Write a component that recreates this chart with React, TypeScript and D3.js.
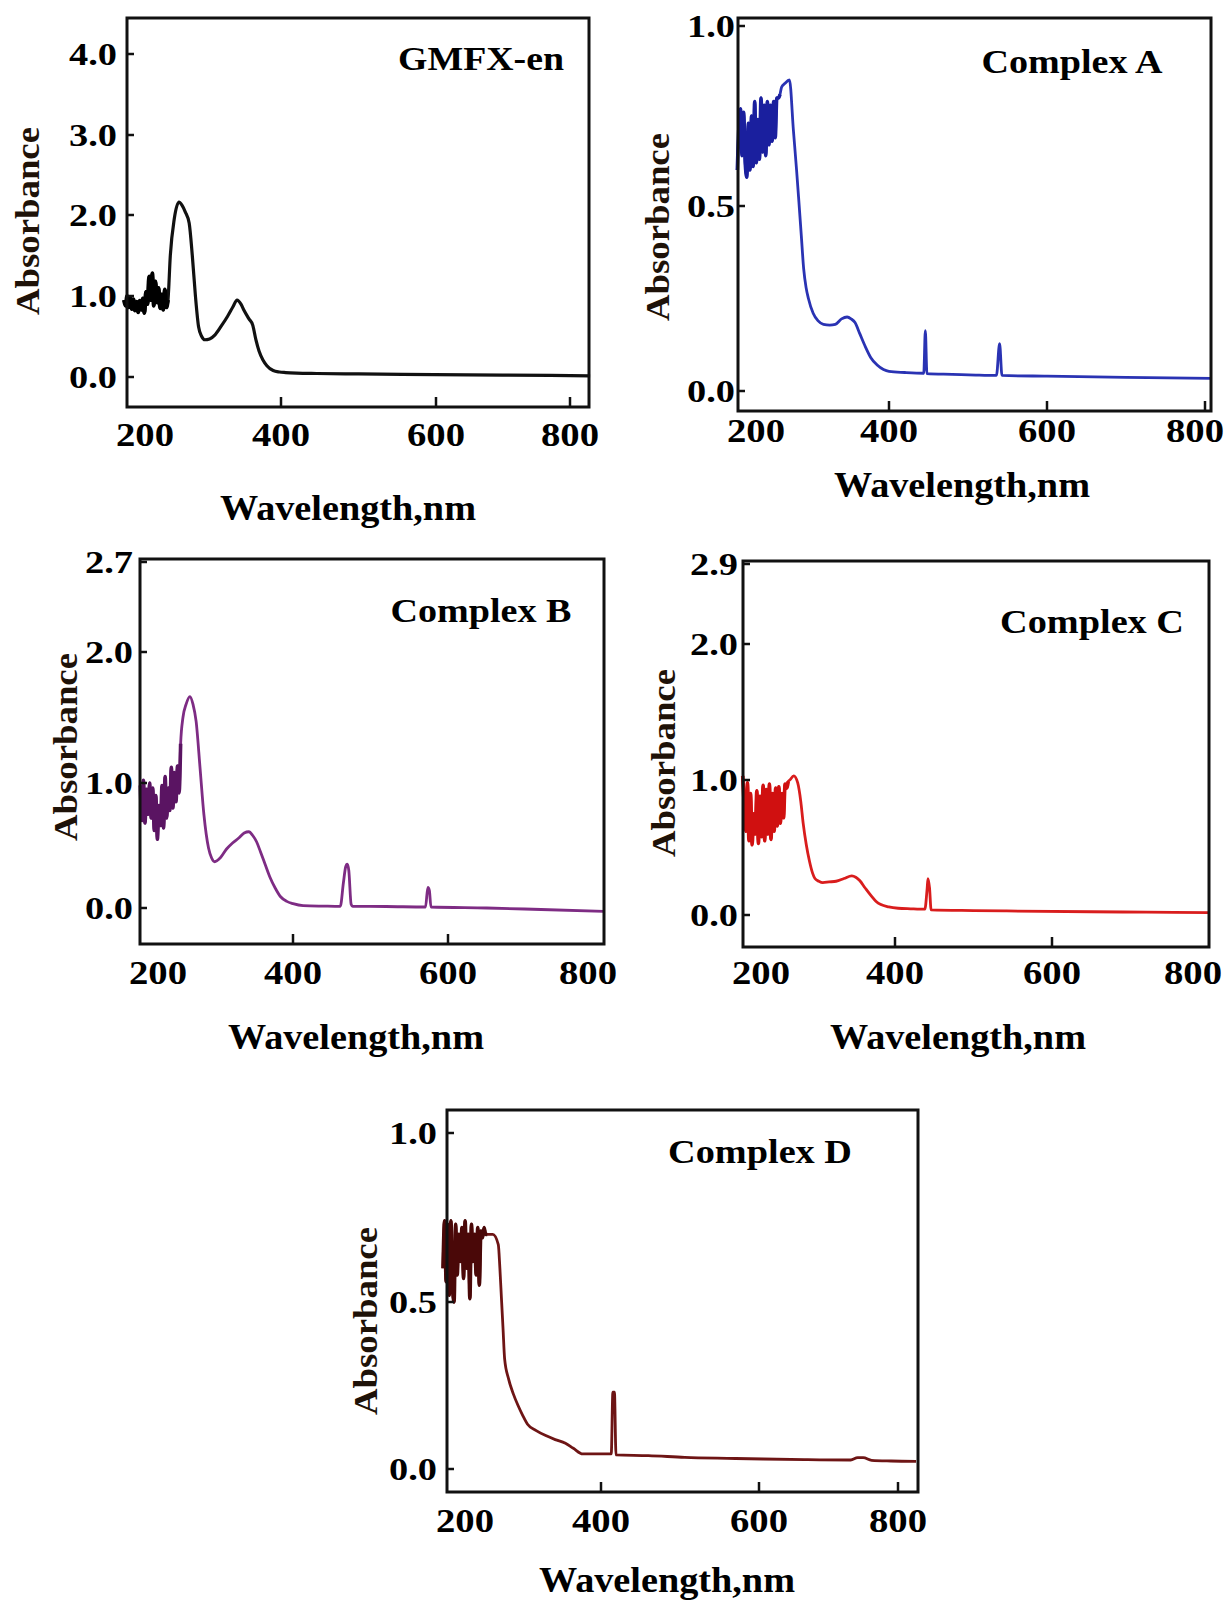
import React from 'react'
import * as d3 from 'd3'

// ---- data (wavelength nm, absorbance) ----
const gmfxWl = [200, 202, 204, 206, 208, 210, 212, 214, 216, 218, 220, 222, 224, 226, 228, 230, 232, 234, 236, 238, 240, 242, 244, 246, 248, 250, 252, 254, 256,
  259, 264, 270, 274, 278, 283, 287, 291, 295, 299, 303, 309, 316, 324, 332, 339, 344, 349, 353, 359, 364, 368, 372, 377, 382, 390, 398, 406, 420, 446, 500, 598, 700, 830]
const gmfxAbs = [0.95, 0.88, 1.0, 0.86, 0.98, 0.84, 0.96, 0.82, 0.93, 0.8, 0.94, 0.83, 0.97, 0.79, 1.05, 0.9, 1.24, 0.95, 1.28, 0.88, 1.18, 0.92, 1.1, 0.85, 1.02, 0.83, 1.08, 0.86, 0.95,
  1.5, 1.95, 2.16, 2.12, 2.04, 1.9, 1.5, 1.0, 0.62, 0.5, 0.46, 0.47, 0.52, 0.63, 0.75, 0.87, 0.95, 0.9, 0.82, 0.72, 0.64, 0.46, 0.32, 0.21, 0.14, 0.08, 0.062, 0.055, 0.048, 0.043, 0.038, 0.03, 0.024, 0.015]

const complexAWl = [208, 210, 212, 214, 216, 218, 220, 222, 224, 226, 228, 230, 232, 234, 236, 238, 240, 242, 244, 246, 248, 250, 252, 254, 256, 258, 260, 262,
  264, 268, 274, 279, 283, 286, 289, 292, 295, 298, 304, 310, 317, 325, 332, 340, 347, 352, 357, 363, 370, 377, 385, 393, 400, 420, 444, 446, 448, 480, 510, 536, 540, 543, 600, 700, 808]
const complexAAbs = [0.6, 0.72, 0.77, 0.64, 0.76, 0.62, 0.58, 0.73, 0.6, 0.75, 0.61, 0.79, 0.62, 0.74, 0.63, 0.8, 0.65, 0.78, 0.64, 0.79, 0.67, 0.78, 0.68, 0.79, 0.69, 0.8, 0.8, 0.81,
  0.83, 0.84, 0.85, 0.71, 0.6, 0.51, 0.42, 0.33, 0.28, 0.25, 0.21, 0.19, 0.18, 0.178, 0.18, 0.195, 0.2, 0.195, 0.185, 0.155, 0.12, 0.09, 0.07, 0.058, 0.053, 0.05, 0.048, 0.163, 0.047, 0.045, 0.043, 0.042, 0.128, 0.042, 0.04, 0.037, 0.034]

const complexBWl = [203, 205, 207, 209, 211, 213, 215, 217, 219, 221, 223, 225, 227, 229, 231, 233, 235, 237, 239, 241, 243, 245, 247, 249, 251, 253, 255,
  258, 262, 267, 271, 275, 280, 285, 291, 295, 299, 306, 314, 322, 330, 337, 343, 348, 353, 358, 364, 370, 377, 384, 392, 400, 413, 440, 461, 465, 468, 470, 472, 475, 477, 520, 571, 574, 576, 578, 650, 720, 801]
const complexBAbs = [0.98, 0.7, 1.02, 0.68, 0.95, 0.75, 1.0, 0.72, 0.96, 0.62, 0.9, 0.55, 0.82, 0.66, 0.98, 0.64, 1.05, 0.72, 0.96, 0.78, 1.12, 0.8, 1.08, 0.85, 1.13, 0.92, 1.3,
  1.5, 1.6, 1.66, 1.6, 1.47, 1.12, 0.75, 0.48, 0.4, 0.37, 0.4, 0.47, 0.52, 0.56, 0.6, 0.61, 0.58, 0.53, 0.45, 0.35, 0.25, 0.16, 0.09, 0.053, 0.035, 0.019, 0.015, 0.013, 0.2, 0.33, 0.35, 0.3, 0.03, 0.013, 0.012, 0.008, 0.165, 0.14, 0.008, 0.0, -0.012, -0.027]

const complexCWl = [206, 208, 210, 212, 214, 216, 218, 220, 222, 224, 226, 228, 230, 232, 234, 236, 238, 240, 242, 244, 246, 248, 250, 252, 254, 256, 258, 260, 262, 264,
  266, 271, 276, 280, 283, 287, 291, 295, 298, 303, 308, 316, 325, 335, 345, 350, 355, 362, 370, 376, 382, 392, 404, 420, 438, 441, 442, 444, 446, 500, 542, 650, 720, 800]
const complexCAbs = [1.03, 0.8, 0.62, 0.98, 0.55, 0.9, 0.52, 0.75, 0.6, 0.92, 0.53, 0.88, 0.58, 0.96, 0.55, 0.93, 0.6, 0.97, 0.56, 0.9, 0.62, 0.94, 0.66, 0.95, 0.68, 0.9, 0.72, 0.97, 0.94, 0.99,
  1.0, 1.03, 0.98, 0.84, 0.68, 0.52, 0.4, 0.31, 0.27, 0.25, 0.24, 0.245, 0.25, 0.27, 0.29, 0.28, 0.255, 0.2, 0.14, 0.1, 0.077, 0.06, 0.05, 0.046, 0.043, 0.2, 0.27, 0.2, 0.038, 0.033, 0.03, 0.024, 0.021, 0.018]

const complexDWl = [200, 202, 204, 206, 208, 210, 212, 214, 216, 218, 220, 222, 224, 226, 228, 230, 232, 234, 236, 238, 240, 242, 244, 246, 248, 250, 252, 254, 256,
  263, 270, 272, 274, 276, 278, 283, 289, 295, 301, 307, 318, 330, 342, 355, 365, 377, 395, 413, 415, 417, 419, 460, 506, 560, 606, 670, 732, 742, 750, 762, 790, 826]
const complexDAbs = [0.6, 0.74, 0.56, 0.73, 0.52, 0.74, 0.55, 0.5, 0.73, 0.58, 0.7, 0.62, 0.72, 0.57, 0.74, 0.6, 0.7, 0.51, 0.73, 0.62, 0.7, 0.58, 0.72, 0.55, 0.71, 0.69, 0.72, 0.7, 0.7,
  0.7, 0.67, 0.6, 0.51, 0.42, 0.33, 0.27, 0.225, 0.19, 0.16, 0.134, 0.115, 0.1, 0.088, 0.077, 0.062, 0.045, 0.045, 0.045, 0.23, 0.23, 0.042, 0.04, 0.035, 0.032, 0.03, 0.028, 0.027, 0.034, 0.034, 0.026, 0.024, 0.023]

const xTickValues = [200, 400, 600, 800]

const FONT = '"Liberation Serif", "Times New Roman", Times, serif'

// layout of the five panels (pixel positions only)
const panels = [
  {
    title: 'GMFX-en', wl: gmfxWl, abs: gmfxAbs, color: '#111111', noiseColor: '#000000', noiseEnd: 256, lw: 3.2,
    frame: { left: 127, right: 589, top: 18, bottom: 407 },
    xAnchors: [200, 400, 600, 800], xPx: [124, 281, 436, 570],
    yTicks: [0, 1, 2, 3, 4], yPx: [377, 296, 215, 135, 54],
    titleAt: [481, 70, 166], xlabAt: [348, 520], ylabAt: [39, 221], tickBase: 39, yGap: 10,
  },
  {
    title: 'Complex A', wl: complexAWl, abs: complexAAbs, color: '#2a33b3', noiseColor: '#1a1f9e', noiseEnd: 262, lw: 2.8,
    frame: { left: 738, right: 1211, top: 18, bottom: 411 },
    xAnchors: [400, 600], xPx: [889, 1047],
    yTicks: [0, 0.5, 1.0], yPx: [391, 206, 26],
    titleAt: [1072, 73, 181], xlabAt: [962, 497], ylabAt: [669, 227], tickBase: 31, yGap: 3,
  },
  {
    title: 'Complex B', wl: complexBWl, abs: complexBAbs, color: '#7e2c84', noiseColor: '#5a1462', noiseEnd: 255, lw: 2.8,
    frame: { left: 140, right: 604, top: 559, bottom: 944 },
    xAnchors: [400, 600], xPx: [293, 448],
    yTicks: [0, 1, 2, 2.7], yPx: [908, 783, 652, 562],
    titleAt: [481, 622, 181], xlabAt: [356, 1049], ylabAt: [77, 747], tickBase: 40, yGap: 7,
  },
  {
    title: 'Complex C', wl: complexCWl, abs: complexCAbs, color: '#d91d1d', noiseColor: '#d01010', noiseEnd: 264, lw: 2.8,
    frame: { left: 743, right: 1209, top: 561, bottom: 947 },
    xAnchors: [400, 600], xPx: [895, 1052],
    yTicks: [0, 1, 2, 2.9], yPx: [915, 780, 644, 564],
    titleAt: [1092, 633, 184], xlabAt: [958, 1049], ylabAt: [675, 763], tickBase: 37, yGap: 5,
  },
  {
    title: 'Complex D', wl: complexDWl, abs: complexDAbs, color: '#6e1515', noiseColor: '#4a0808', noiseEnd: 256, lw: 2.8,
    frame: { left: 447, right: 918, top: 1110, bottom: 1492 },
    xAnchors: [400, 600, 800], xPx: [601, 759, 898],
    yTicks: [0, 0.5, 1.0], yPx: [1469, 1302, 1133],
    titleAt: [760, 1163, 184], xlabAt: [667, 1592], ylabAt: [377, 1321], tickBase: 40, yGap: 10,
  },
]

function Panel({ p }) {
  const { frame } = p
  const x = d3.scaleLinear().domain(p.xAnchors).range(p.xPx)
  const y = d3.scaleLinear().domain(p.yTicks).range(p.yPx)
  const pts = p.wl.map((w, i) => [w, p.abs[i]])
  const line = d3.line().x(d => x(d[0])).y(d => y(d[1])).curve(d3.curveMonotoneX)
  const noise = pts.filter(d => d[0] <= p.noiseEnd)
  const fmt = d3.format('.1f')

  return (
    <g>
      {/* spectrum */}
      <path d={line(pts)} fill="none" stroke={p.color} strokeWidth={p.lw} strokeLinejoin="round" />
      <path d={line(noise)} fill="none" stroke={p.noiseColor} strokeWidth={p.lw + 0.8} strokeLinejoin="round" />

      {/* frame */}
      <rect x={frame.left} y={frame.top} width={frame.right - frame.left} height={frame.bottom - frame.top}
        fill="none" stroke="#111" strokeWidth={3} />

      {/* y ticks */}
      {p.yTicks.map(t => (
        <g key={'y' + t}>
          <line x1={frame.left} x2={frame.left + 7} y1={y(t)} y2={y(t)} stroke="#111" strokeWidth={2.5} />
          <text x={frame.left - p.yGap} y={y(t)} dy="0.36em" textAnchor="end" fontFamily={FONT}
            fontWeight="bold" fontSize={31} textLength={48} lengthAdjust="spacingAndGlyphs" fill="#000">{fmt(t)}</text>
        </g>
      ))}

      {/* x ticks */}
      {xTickValues.map(t => {
        const px = x(t)
        const lx = Math.min(Math.max(px, frame.left + 18), frame.right - 16)
        return (
          <g key={'x' + t}>
            {px > frame.left + 4 && px < frame.right - 4 &&
              <line x1={px} x2={px} y1={frame.bottom} y2={frame.bottom - 10} stroke="#111" strokeWidth={2.5} />}
            <text x={lx} y={frame.bottom + p.tickBase} textAnchor="middle" fontFamily={FONT}
              fontWeight="bold" fontSize={34} textLength={58} lengthAdjust="spacingAndGlyphs" fill="#000">{t}</text>
          </g>
        )
      })}

      {/* title */}
      <text x={p.titleAt[0]} y={p.titleAt[1]} textAnchor="middle" fontFamily={FONT} fontWeight="bold"
        fontSize={33} textLength={p.titleAt[2]} lengthAdjust="spacingAndGlyphs" fill="#000">{p.title}</text>

      {/* axis titles */}
      <text x={p.xlabAt[0]} y={p.xlabAt[1]} textAnchor="middle" fontFamily={FONT} fontWeight="bold"
        fontSize={35} textLength={256} lengthAdjust="spacingAndGlyphs" fill="#000">Wavelength,nm</text>
      <text transform={`translate(${p.ylabAt[0]}, ${p.ylabAt[1]}) rotate(-90)`} textAnchor="middle"
        fontFamily={FONT} fontWeight="bold" fontSize={33} textLength={188} lengthAdjust="spacingAndGlyphs"
        fill="#1e1208">Absorbance</text>
    </g>
  )
}

export default function App() {
  return (
    <svg width={1227} height={1601} style={{ position: 'absolute', left: 0, top: 0, background: '#fff' }}>
      <rect width={1227} height={1601} fill="#fff" />
      {panels.map(p => <Panel key={p.title} p={p} />)}
    </svg>
  )
}
